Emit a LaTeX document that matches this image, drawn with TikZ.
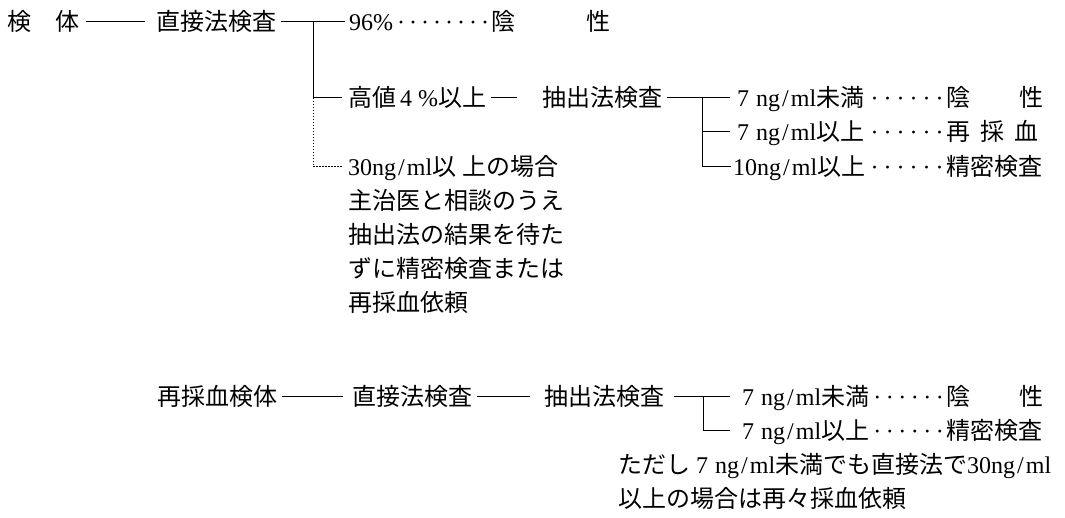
\documentclass[tikz,border=0pt]{standalone}
\usepackage{fontspec}
\setmainfont{Liberation Serif}
\newfontfamily\jp{Noto Sans CJK JP}
\usetikzlibrary{calc}
\newcommand\R[1]{{\rmfamily #1}}
\newcommand\ngml{7\hspace{7pt}ng\kern2pt/\kern2pt ml}
\newcommand\dl[2]{\hfill{\rmfamily\cleaders\hbox to #2{\hss\textperiodcentered\hss}\hskip#1\relax}}
\begin{document}
\begin{tikzpicture}[x=1pt,y=-1pt,
  txt/.style={inner sep=0pt, anchor=base west, font=\jp\fontsize{24}{33}\selectfont},
  ln/.style={line width=1pt},
  dln/.style={line width=1pt, dash pattern=on 1.5pt off 1.5pt}]
\useasboundingbox[fill=white] (0,0) rectangle (1065,518);
% ---- section 1
\node[txt] (kt) at (7,31) {検　体};
\node[txt] (d1) at (156,31) {直接法検査};
\node[txt] (r1) at (349,31) {\makebox[142pt][l]{\R{96\%}\dl{96pt}{12pt}}陰\hspace{71pt}性};
\coordinate (b1) at (313,22);
\coordinate (b2) at (313,98);
\coordinate (b4) at (313,167);
\draw[ln] ($(kt.east|-b1)+(7,0)$) -- ($(d1.west|-b1)+(-11,0)$);
\draw[ln] ($(d1.east|-b1)+(5,0)$) -- ($(r1.west|-b1)+(-4,0)$);
\node[txt] (h) at (348,107) {高値\hspace{4pt}\R{4}\hspace{6pt}\R{\%}以上};
\node[txt] (ex) at (542,107) {抽出法検査};
\draw[ln] (b1) -- (b2) -- ($(h.west|-b2)+(-6,0)$);
\draw[ln] ($(h.east|-b2)+(5,0)$) -- ($(ex.west|-b2)+(-25,0)$);
\coordinate (b3) at (702,98);
\coordinate (c2) at (702,132);
\coordinate (c3) at (702,167);
\node[txt] (e1) at (737,107) {\makebox[209pt][l]{\R{\ngml}未満\dl{78pt}{13pt}}陰\hspace{49pt}性};
\node[txt] (e2) at (737,141) {\makebox[209pt][l]{\R{\ngml}以上\dl{78pt}{13pt}}再\hspace{10pt}採\hspace{10pt}血};
\node[txt] (e3) at (733,176) {\makebox[213pt][l]{\R{10ng\kern2pt/\kern2pt ml}以上\dl{78pt}{13pt}}精密検査};
\draw[ln] ($(ex.east|-b3)+(5,0)$) -- ($(e1.west|-b3)+(-7,0)$);
\draw[ln] (b3) -- (c3) -- ($(e3.west|-c3)+(-2,0)$);
\draw[ln] (c2) -- ($(e2.west|-c2)+(-7,0)$);
\node[txt] (n1) at (348,176) {\R{30ng\kern2pt/\kern2pt ml}以\hspace{6pt}上の場合};
\node[txt] (n2) at (348,210) {主治医と相談のうえ};
\node[txt] (n3) at (348,244) {抽出法の結果を待た};
\node[txt] (n4) at (348,278) {ずに精密検査または};
\node[txt] (n5) at (348,312) {再採血依頼};
\draw[dln] (b2) -- (b4) -- ($(n1.west|-b4)+(-5,0)$);
% ---- section 2
\node[txt] (s1) at (157,405) {再採血検体};
\node[txt] (s2) at (352,405) {直接法検査};
\node[txt] (s3) at (544,405) {抽出法検査};
\coordinate (q1) at (703,396);
\coordinate (q2) at (703,430);
\node[txt] (t1) at (742,405) {\makebox[204pt][l]{\R{\ngml}未満\dl{75pt}{12.5pt}}陰\hspace{49pt}性};
\node[txt] (t2) at (742,439) {\makebox[204pt][l]{\R{\ngml}以上\dl{75pt}{12.5pt}}精密検査};
\draw[ln] ($(s1.east|-q1)+(5,0)$) -- ($(s2.west|-q1)+(-9,0)$);
\draw[ln] ($(s2.east|-q1)+(5,0)$) -- ($(s3.west|-q1)+(-14,0)$);
\draw[ln] ($(s3.east|-q1)+(10,0)$) -- ($(t1.west|-q1)+(-12,0)$);
\draw[ln] (q1) -- (q2) -- ($(t2.west|-q2)+(-12,0)$);
\node[txt] (u1) at (618,473) {ただし\hspace{6pt}\R{\ngml}未満でも直接法で\R{30ng\kern2pt/\kern2pt ml}};
\node[txt] (u2) at (618,507) {以上の場合は再々採血依頼};
\end{tikzpicture}
\end{document}
